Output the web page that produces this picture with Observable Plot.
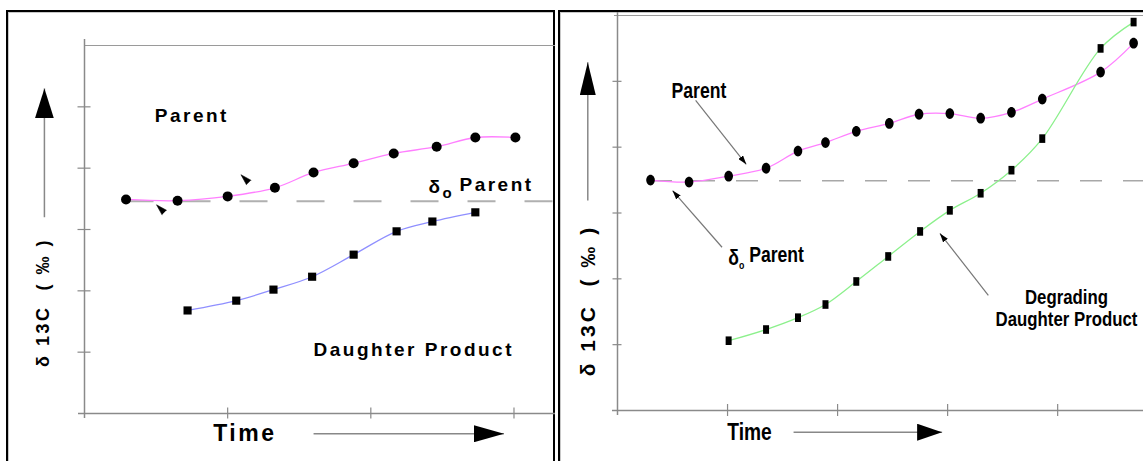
<!DOCTYPE html>
<html><head><meta charset="utf-8">
<script src="https://cdn.jsdelivr.net/npm/d3@7"></script>
<script src="https://cdn.jsdelivr.net/npm/@observablehq/plot@0.6"></script>
<style>
html,body{margin:0;padding:0;background:#fff;}
#wrap{position:relative;width:1143px;height:461px;overflow:hidden;}
.panel{position:absolute;box-sizing:border-box;border:2px solid #000;border-bottom:none;box-shadow:inset 1px 1px 0 #c8c8c8;}
#pl{left:6px;top:10px;width:549px;height:451px;}
#pr{left:558px;top:10px;width:600px;height:451px;border-right:none;}
.chart{position:absolute;top:0;}
#cl{left:0;} #cr{left:560px;}
#cl text{letter-spacing:2.5px;}
</style></head><body>
<div id="wrap"><div class="panel" id="pl"></div><div class="panel" id="pr"></div><div class="chart" id="cl"></div><div class="chart" id="cr"></div></div>
<script>
// ---- Data (time units, δ13C units) ----
const yTicks = [0, 1, 2, 3, 4, 5, 6];
const leftXTicks = [0, 1, 2, 3];
const rightXTicks = [0, 1, 2, 3, 4];

const leftParentT = [0.29, 0.65, 1.00, 1.33, 1.60, 1.88, 2.16, 2.46, 2.73, 3.01];
const leftParentD = [3.49, 3.47, 3.54, 3.68, 3.93, 4.08, 4.24, 4.35, 4.50, 4.50];
const leftDaughterT = [0.72, 1.06, 1.32, 1.59, 1.88, 2.18, 2.43, 2.73];
const leftDaughterD = [1.68, 1.84, 2.02, 2.23, 2.59, 2.97, 3.13, 3.28];
const leftBaseline = 3.46;

const rightParentT = [0.30, 0.65, 1.01, 1.35, 1.64, 1.89, 2.17, 2.47, 2.74, 3.02, 3.30, 3.58, 3.86, 4.39, 4.69];
const rightParentD = [3.50, 3.47, 3.56, 3.68, 3.94, 4.07, 4.24, 4.36, 4.50, 4.51, 4.44, 4.53, 4.73, 5.14, 5.58];
const rightDaughterT = [1.01, 1.35, 1.64, 1.89, 2.17, 2.46, 2.75, 3.02, 3.30, 3.58, 3.86, 4.39, 4.69];
const rightDaughterD = [1.06, 1.23, 1.41, 1.61, 1.96, 2.34, 2.72, 3.04, 3.30, 3.65, 4.13, 5.50, 5.90];
const rightBaseline = 3.49;

const yLabel = "δ 13C  ( ‰ )";
const xLabel = "Time";
const parentLabel = "Parent";
const deltaLabel = "δ_o Parent";
const daughterLabel = "Daughter Product";
const degradingLabel = "Degrading\nDaughter Product";

// ---- helpers ----
const zip = (t, d) => t.map((x, i) => ({t: x, d: d[i]}));
function triMarker(len, wid) {
  return (color, context) => {
    const m = d3.create("svg:marker")
      .attr("viewBox", `0 ${-wid / 2} ${len} ${wid}`)
      .attr("markerWidth", len).attr("markerHeight", wid)
      .attr("refX", len).attr("refY", 0)
      .attr("orient", "auto")
      .attr("markerUnits", "userSpaceOnUse");
    m.append("path").attr("d", `M0,${-wid / 2}L${len},0L0,${wid / 2}Z`).attr("fill", "#000").attr("stroke", "none");
    return m.node();
  };
}
const ellipseSym = {draw(ctx) {
  const rx = 4.3, ry = 5.4, k = 0.5523;
  ctx.moveTo(rx, 0);
  ctx.bezierCurveTo(rx, ry * k, rx * k, ry, 0, ry);
  ctx.bezierCurveTo(-rx * k, ry, -rx, ry * k, -rx, 0);
  ctx.bezierCurveTo(-rx, -ry * k, -rx * k, -ry, 0, -ry);
  ctx.bezierCurveTo(rx * k, -ry, rx, -ry * k, rx, 0);
  ctx.closePath();
}};
const tallRectSym = {draw(ctx) {
  const w = 3, h = 4.3;
  ctx.moveTo(-w, -h); ctx.lineTo(w, -h); ctx.lineTo(w, h); ctx.lineTo(-w, h); ctx.closePath();
}};
function fixDelta(svg, subSize) {
  d3.select(svg).selectAll("text").each(function () {
    const s = this.textContent;
    if (s.startsWith("δ_o")) {
      const rest = s.slice(3);
      const t = d3.select(this);
      t.selectAll("*").remove();
      this.textContent = "";
      t.append("tspan").text("δ");
      t.append("tspan").attr("dy", "0.35em").attr("font-size", subSize).attr("letter-spacing", "0px").text("o");
      t.append("tspan").attr("dy", "-0.35em").text(rest);
    }
  });
}
// condense (narrow) the horizontal texts of a chart, as the right panel uses a narrow face
function condense(svg, k) {
  d3.select(svg).selectAll("text").each(function () {
    const tr = this.getAttribute("transform") || "";
    if (tr.includes("rotate")) return;
    if (tr) this.setAttribute("transform", tr + ` scale(${k},1)`);
    else {
      const x = +this.getAttribute("x") || 0;
      this.setAttribute("transform", `translate(${x},0) scale(${k},1) translate(${-x},0)`);
    }
  });
}

const axisGray = "#8a8a8a";

// ---- Left panel ----
const leftFont = "'Liberation Sans', Arial, sans-serif";
const left = Plot.plot({
  width: 560, height: 461,
  marginLeft: 84, marginTop: 45, marginRight: 5, marginBottom: 48,
  style: {fontFamily: leftFont, background: "transparent", overflow: "visible"},
  x: {domain: [0, 3.29]},
  y: {domain: [0, 6]},
  marks: [
    Plot.ruleY([6], {stroke: "#9a9a9a", strokeWidth: 1.2}),
    Plot.ruleY([0], {stroke: axisGray, strokeWidth: 1.5, insetLeft: -6}),
    Plot.ruleX([0], {stroke: axisGray, strokeWidth: 1.5, insetTop: -6, insetBottom: -5}),
    Plot.axisY({ticks: yTicks.slice(1, 6), tickSize: 13, dx: 6.5, tickFormat: () => "", stroke: axisGray, strokeWidth: 1.2, label: null}),
    Plot.axisX({ticks: leftXTicks.slice(1), tickSize: 11, dy: -5.5, tickFormat: () => "", stroke: axisGray, strokeWidth: 1.2, label: null}),
    Plot.ruleY([leftBaseline], {x1: leftParentT[0], x2: 3.29, stroke: "#b0b0b0", strokeWidth: 2, strokeDasharray: "28,29"}),
    Plot.line(zip(leftParentT, leftParentD), {x: "t", y: "d", stroke: "#ff7fff", strokeWidth: 1.3, curve: "catmull-rom"}),
    Plot.line(zip(leftDaughterT, leftDaughterD), {x: "t", y: "d", stroke: "#8f8fff", strokeWidth: 1.3, curve: "catmull-rom"}),
    Plot.dot(zip(leftParentT, leftParentD), {x: "t", y: "d", r: 5, fill: "#000", symbol: "circle"}),
    Plot.dot(zip(leftDaughterT, leftDaughterD), {x: "t", y: "d", r: 4.6, fill: "#000", symbol: "square"}),
    Plot.vector([{t: 0.53, d: 3.34}, {t: 1.12, d: 3.83}], {x: "t", y: "d", shape: "spike", length: 11, r: 3.2, rotate: -45, anchor: "middle", fill: "#000", stroke: "#000", strokeWidth: 0.5}),
    Plot.text([parentLabel], {x: 0.75, y: 4.86, text: d => d, fontSize: 19, fontWeight: "bold", fill: "#000"}),
    Plot.text([deltaLabel], {x: 2.77, y: 3.70, text: d => d, fontSize: 19, fontWeight: "bold", fill: "#000"}),
    Plot.text([daughterLabel], {x: 2.30, y: 1.03, text: d => d, fontSize: 19, fontWeight: "bold", fill: "#000"}),
    Plot.text([xLabel], {x: 1.12, y: -0.33, text: d => d, fontSize: 23, fontWeight: "bold", fill: "#000"}),
    Plot.text([yLabel], {x: -0.29, y: 1.81, text: d => d, rotate: -90, fontSize: 18, fontWeight: "bold", fill: "#000"}),
    Plot.link([0], {x1: -0.28, x2: -0.28, y1: 3.2, y2: 5.3, stroke: "#888", strokeWidth: 1.5, markerEnd: triMarker(30, 19)}),
    Plot.link([0], {x1: 1.6, x2: 2.93, y1: -0.33, y2: -0.33, stroke: "#888", strokeWidth: 1.5, markerEnd: triMarker(30, 17)})
  ]
});
fixDelta(left, "15px");
document.getElementById("cl").appendChild(left);

// ---- Right panel ----
const rightFont = "'Liberation Sans', Arial, sans-serif";
const right = Plot.plot({
  width: 583, height: 461,
  marginLeft: 57, marginTop: 15, marginRight: 0, marginBottom: 51,
  style: {fontFamily: rightFont, background: "transparent", overflow: "visible"},
  x: {domain: [0, 4.78]},
  y: {domain: [0, 6]},
  marks: [
    Plot.ruleY([6], {stroke: "#9a9a9a", strokeWidth: 1.2, insetLeft: -3}),
    Plot.ruleY([0], {stroke: axisGray, strokeWidth: 1.5, insetLeft: -5}),
    Plot.ruleX([0], {stroke: axisGray, strokeWidth: 1.5, insetTop: -3, insetBottom: -5}),
    Plot.axisY({ticks: yTicks.slice(1, 6), tickSize: 9, dx: 4.5, tickFormat: () => "", stroke: axisGray, strokeWidth: 1.2, label: null}),
    Plot.axisX({ticks: rightXTicks.slice(1), tickSize: 12, dy: -6, tickFormat: () => "", stroke: axisGray, strokeWidth: 1.2, label: null}),
    Plot.ruleY([rightBaseline], {x1: rightParentT[0], x2: 4.78, stroke: "#a8a8a8", strokeWidth: 1.6, strokeDasharray: "22,21"}),
    Plot.line(zip(rightParentT, rightParentD), {x: "t", y: "d", stroke: "#ff80ff", strokeWidth: 1.3, curve: "catmull-rom"}),
    Plot.line(zip(rightDaughterT, rightDaughterD), {x: "t", y: "d", stroke: "#8cf08c", strokeWidth: 1.3, curve: "catmull-rom"}),
    Plot.dot(zip(rightParentT, rightParentD), {x: "t", y: "d", r: 5, fill: "#000", symbol: ellipseSym}),
    Plot.dot(zip(rightDaughterT, rightDaughterD), {x: "t", y: "d", r: 4, fill: "#000", symbol: tallRectSym}),
    Plot.link([0], {x1: 0.71, y1: 4.71, x2: 1.17, y2: 3.74, stroke: "#777", strokeWidth: 1.2, markerEnd: triMarker(9, 6)}),
    Plot.link([0], {x1: 0.95, y1: 2.48, x2: 0.50, y2: 3.34, stroke: "#777", strokeWidth: 1.2, markerEnd: triMarker(9, 6)}),
    Plot.link([0], {x1: 3.37, y1: 1.75, x2: 2.93, y2: 2.69, stroke: "#777", strokeWidth: 1.2, markerEnd: triMarker(9, 6)}),
    Plot.text([parentLabel], {x: 0.74, y: 4.86, text: d => d, fontSize: 22, fontWeight: "bold", fill: "#000"}),
    Plot.text([deltaLabel], {x: 1.35, y: 2.31, text: d => d, fontSize: 22, fontWeight: "bold", fill: "#000"}),
    Plot.text([degradingLabel], {x: 4.08, y: 1.56, text: d => d, fontSize: 21, fontWeight: "bold", lineHeight: 1.05, fill: "#000"}),
    Plot.text([xLabel], {x: 1.2, y: -0.33, text: d => d, fontSize: 24, fontWeight: "bold", fill: "#000"}),
    Plot.text([yLabel], {x: -0.27, y: 1.67, text: d => d, rotate: -90, fontSize: 21, fontWeight: "bold", fill: "#000"}),
    Plot.link([0], {x1: -0.27, x2: -0.27, y1: 3.19, y2: 5.29, stroke: "#888", strokeWidth: 1.5, markerEnd: triMarker(33, 16)}),
    Plot.link([0], {x1: 1.6, x2: 2.95, y1: -0.33, y2: -0.33, stroke: "#888", strokeWidth: 1.5, markerEnd: triMarker(25, 17)})
  ]
});
fixDelta(right, "11px");
condense(right, 0.8);
d3.select(right).selectAll("text").filter(function () { return (this.getAttribute("transform") || "").includes("rotate"); }).attr("letter-spacing", "3px");
document.getElementById("cr").appendChild(right);
</script>
</body></html>
